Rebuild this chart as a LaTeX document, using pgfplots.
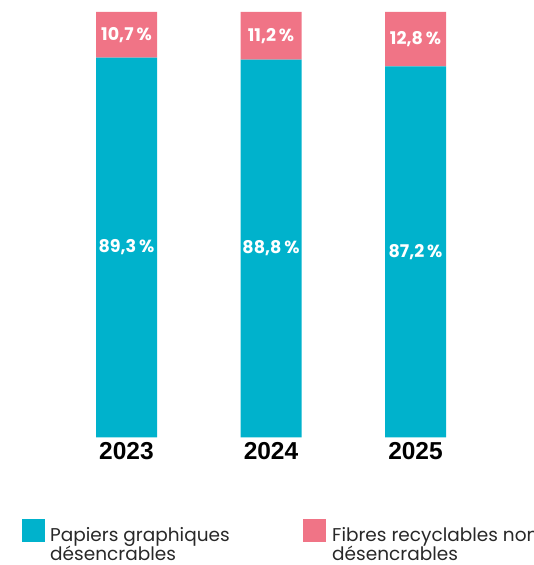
\documentclass[border=0pt]{standalone}
\usepackage{pgfplots}
\pgfplotsset{compat=1.18}
\usepackage{fontspec}
\setmainfont{Poppins}
\newfontfamily\yearfont{Liberation Sans}
\definecolor{cyanbar}{RGB}{0,178,204}
\definecolor{pinkbar}{RGB}{240,116,134}
\definecolor{legtext}{RGB}{40,40,40}
\begin{document}
\begin{tikzpicture}[x=1pt,y=1pt]
\useasboundingbox (0,0) rectangle (534,565);
\begin{axis}[
 at={(54.25pt,127.7pt)}, anchor=south west,
 scale only axis, width=433.5pt, height=425.3pt,
 xmin=-0.5, xmax=2.5, ymin=0, ymax=100,
 ybar stacked, bar width=61pt,
 axis line style={draw=none},
 major tick length=0pt,
 ytick=\empty,
 xtick={0,1,2}, xticklabels={2023,2024,2025},
 xticklabel style={font=\yearfont\bfseries\fontsize{24.5}{24.5}\selectfont, inner sep=4.5pt, text=black},
 clip=false,
]
\addplot[fill=cyanbar, draw=none] coordinates {(0,89.3) (1,88.8) (2,87.2)};
\addplot[fill=pinkbar, draw=none] coordinates {(0,10.7) (1,11.2) (2,12.8)};
\end{axis}
\begin{axis}[
 at={(54.25pt,127.7pt)}, anchor=south west,
 scale only axis, width=433.5pt, height=425.3pt,
 xmin=-0.5, xmax=2.5, ymin=0, ymax=100,
 hide axis, clip=false,
]
\addplot[only marks, mark=none, point meta=explicit,
 nodes near coords={\pgfmathprintnumber[fixed,fixed zerofill,precision=1,use comma,assume math mode=true]{\pgfplotspointmeta}\,\%},
 every node near coord/.style={anchor=center, text=white, font=\bfseries\fontsize{17.5}{17.5}\selectfont}]
 coordinates {(0,44.65) [89.3] (1,44.4) [88.8] (2,43.6) [87.2]
              (0,94.65) [10.7] (1,94.4) [11.2] (2,93.6) [12.8]};
\end{axis}
\fill[cyanbar] (22,23) rectangle (45,46);
\node[anchor=base west, inner sep=0, text=legtext, font=\fontsize{18.5}{18.5}\selectfont] at (50,23.5) {Papiers graphiques};
\node[anchor=base west, inner sep=0, text=legtext, font=\fontsize{18.5}{18.5}\selectfont] at (50,5) {désencrables};
\fill[pinkbar] (303,23) rectangle (326,46);
\node[anchor=base west, inner sep=0, text=legtext, font=\fontsize{18.5}{18.5}\selectfont] at (332,23.5) {Fibres recyclables non};
\node[anchor=base west, inner sep=0, text=legtext, font=\fontsize{18.5}{18.5}\selectfont] at (332,5) {désencrables};
\end{tikzpicture}
\end{document}
